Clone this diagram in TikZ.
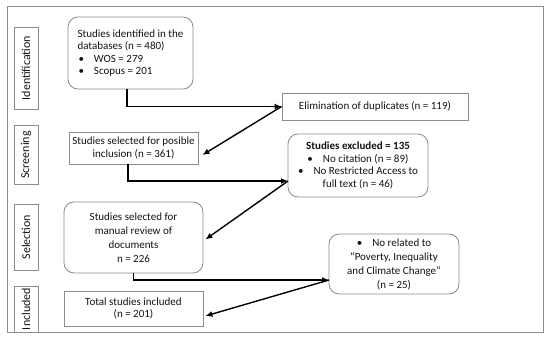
\documentclass[tikz,border=0pt]{standalone}
\usepackage{fontspec}
\setmainfont{Carlito}
\usetikzlibrary{arrows.meta,positioning}
\begin{document}
\begin{tikzpicture}[x=1pt,y=-1pt,
  box/.style={draw=black!45,line width=0.8pt,fill=white,inner sep=1pt,align=center,text=black!92,font=\fontsize{11}{12.8}\selectfont},
  rbox/.style={box,rounded corners=10pt},
  sidelab/.style={draw=black!45,line width=0.8pt,minimum width=24pt,inner sep=0pt,text=black!92,font=\fontsize{12}{12}\selectfont},
  conn/.style={line width=1.4pt,black},
  arr/.style={conn,-{Latex[length=7pt,width=6pt]}}]
\useasboundingbox (0,0) rectangle (550,340);
\draw[black!45,line width=0.8pt] (7,6) rectangle (543,332);
% side labels
\node[sidelab,minimum height=82pt] (idlab) at (26,68) {\rotatebox{90}{Identification}};
\node[sidelab,minimum height=59pt] (scrlab) at (26,155) {\rotatebox{90}{Screening}};
\node[sidelab,minimum height=66pt] (sellab) at (26,237) {\rotatebox{90}{Selection}};
\node[sidelab,minimum height=46pt] (inclab) at (26,309) {\rotatebox{90}{Included}};
% boxes
\node[rbox,minimum width=125pt,minimum height=72pt,align=left,font=\fontsize{11}{12.4}\selectfont] (b1) at (130.5,53)
  {Studies identified in the\\databases (n = 480)\\\hspace*{1pt}\textbullet\hspace{10pt}WOS = 279\\\hspace*{1pt}\textbullet\hspace{10pt}Scopus = 201};
\node[box,minimum width=186pt,minimum height=27pt] (elim) at (375,106.5) {Elimination of duplicates (n = 119)};
\node[box,minimum width=129pt,minimum height=32pt] (b2) at (133.5,148) {Studies selected for posible\\inclusion (n = 361)};
\node[rbox,minimum width=140pt,minimum height=63pt,font=\fontsize{11}{12.6}\selectfont] (excl) at (358,165.5)
  {\textbf{Studies excluded = 135}\\\textbullet\hspace{10pt}No citation (n = 89)\\\textbullet\hspace{10pt}No Restricted Access to\\full text (n = 46)};
\node[rbox,minimum width=139pt,minimum height=71pt,font=\fontsize{11}{14}\selectfont] (sel) at (133.5,237.5)
  {Studies selected for\\manual review of\\documents\\n = 226};
\node[rbox,minimum width=130pt,minimum height=60pt,font=\fontsize{11}{14}\selectfont] (norel) at (394,264)
  {\textbullet\hspace{10pt}No related to\\``Poverty, Inequality\\and Climate Change''\\(n = 25)};
\node[box,minimum width=139pt,minimum height=35pt] (total) at (133.5,308.5) {Total studies included\\(n = 201)};
% junctions
\coordinate (j1) at (elim.west);
\coordinate (j2) at (288,181);
\coordinate (j3) at (329,280);
\coordinate (t2) at ([xshift=4pt,yshift=-7pt]b2.east);
\coordinate (t3) at ([xshift=2pt,yshift=-2pt]sel.east);
\coordinate (t4) at ([xshift=2pt,yshift=-7.5pt]total.east);
% connectors
\draw[arr] ([xshift=-3.5pt]b1.south) |- (j1);
\draw[arr] (j1) -- (t2);
\draw[arr] ([xshift=-5.5pt]b2.south) |- (j2);
\draw[arr] (j2) -- (t3);
\draw[arr] (sel.south) |- (j3);
\draw[arr] (j3) -- (t4);
\end{tikzpicture}
\end{document}
